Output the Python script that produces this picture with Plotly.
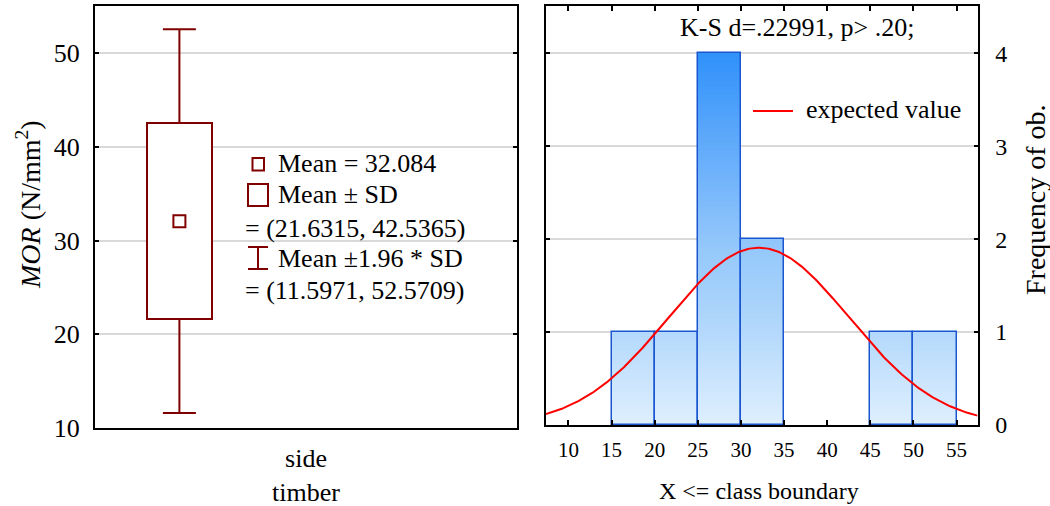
import numpy as np
import plotly.graph_objects as go

# ---------------- data ----------------
# Left panel: descriptive statistics of MOR for the single group
CATEGORY_LABEL = "side<br>timber"
MEAN = 32.084
SD_LOW, SD_HIGH = 21.6315, 42.5365          # Mean ± SD
CI_LOW, CI_HIGH = 11.5971, 52.5709          # Mean ± 1.96*SD
LEFT_YTICKS = [10, 20, 30, 40, 50]

# Right panel: histogram with expected normal curve
BIN_EDGES = [15, 20, 25, 30, 35, 40, 45, 50, 55]
COUNTS = [1, 1, 4, 2, 0, 0, 1, 1]
N_OBS = 10
SD = (SD_HIGH - SD_LOW) / 2
X_TICKS = [10, 15, 20, 25, 30, 35, 40, 45, 50, 55]
FREQ_TICKS = [0, 1, 2, 3, 4]
KS_TEXT = "K-S d=.22991, p> .20;"

# ---------------- style ----------------
W, H = 1050, 506
FONT = "Liberation Serif"
DARKRED = "#800000"
GRID = "#d9d9d9"
BAR_EDGE = "#1a56d0"
CURVE = "#ff0000"


def px(x):
    return x / W


def py(y):
    return 1 - y / H


fig = go.Figure()

# ---- left panel: whiskers (mean ± 1.96 SD) under a box (mean ± SD) ----
BOX_POS = 0.2
BOX_W = 0.154
fig.add_trace(go.Scatter(
    x=[BOX_POS], y=[MEAN], mode="markers", marker=dict(size=1, opacity=0),
    error_y=dict(type="data", symmetric=False, array=[CI_HIGH - MEAN],
                 arrayminus=[MEAN - CI_LOW], color=DARKRED, thickness=2, width=16.5),
    showlegend=False, hoverinfo="skip", xaxis="x", yaxis="y"))
fig.add_trace(go.Bar(
    x=[BOX_POS], base=[SD_LOW], y=[SD_HIGH - SD_LOW], width=[BOX_W],
    marker=dict(color="white", line=dict(color=DARKRED, width=2)),
    showlegend=False, hoverinfo="skip", xaxis="x3", yaxis="y3"))
fig.add_trace(go.Scatter(
    x=[BOX_POS], y=[MEAN], mode="markers",
    marker=dict(symbol="square-open", size=12, color=DARKRED,
                line=dict(width=2, color=DARKRED)),
    showlegend=False, hoverinfo="skip", xaxis="x3", yaxis="y3"))

# ---- right panel: gradient-filled histogram bars ----
centers = [(a + b) / 2 for a, b in zip(BIN_EDGES[:-1], BIN_EDGES[1:])]
widths = [b - a for a, b in zip(BIN_EDGES[:-1], BIN_EDGES[1:])]
counts = np.array(COUNTS, dtype=float)

STOP_Y = [0, 1, 2, 3, 4]
STOP_C = [(224, 240, 255), (180, 217, 252), (145, 198, 251), (98, 171, 251), (48, 146, 250)]


def grad(v):
    r = np.interp(v, STOP_Y, [c[0] for c in STOP_C])
    g = np.interp(v, STOP_Y, [c[1] for c in STOP_C])
    b = np.interp(v, STOP_Y, [c[2] for c in STOP_C])
    return f"rgb({int(r)},{int(g)},{int(b)})"


n_slices = 80
top = counts.max()
step = top / n_slices
for k in range(n_slices):
    base = k * step
    h = np.clip(counts - base, 0, step)
    if h.max() <= 0:
        continue
    fig.add_trace(go.Bar(
        x=centers, y=h, base=[base] * len(centers), width=widths,
        marker=dict(color=grad(base + step / 2), line=dict(width=0)),
        showlegend=False, hoverinfo="skip", xaxis="x2", yaxis="y2"))

edge_widths = [1.5 if c > 0 else 0 for c in COUNTS]
fig.add_trace(go.Bar(
    x=centers, y=counts, width=widths,
    marker=dict(color="rgba(0,0,0,0)", line=dict(color=BAR_EDGE, width=edge_widths)),
    showlegend=False, hoverinfo="skip", xaxis="x2", yaxis="y2"))

# expected normal curve (scaled to counts per bin)
xr = np.linspace(7.4, 57.43, 300)
bw = widths[0]
yr = N_OBS * bw * np.exp(-0.5 * ((xr - MEAN) / SD) ** 2) / (SD * np.sqrt(2 * np.pi))
fig.add_trace(go.Scatter(
    x=xr, y=yr, mode="lines", line=dict(color=CURVE, width=2),
    showlegend=False, hoverinfo="skip", xaxis="x2", yaxis="y2"))

# ---------------- layout ----------------
axis_common = dict(showline=True, linecolor="black", linewidth=2,
                   zeroline=False, tickcolor="black", automargin=False)
LEFT_XDOM = [px(95), px(517)]
LEFT_YDOM = [py(428), py(6)]
LEFT_XRANGE = [0, 1]
LEFT_YRANGE = [10, 55.05]

fig.update_layout(
    width=W, height=H, margin=dict(l=0, r=0, t=0, b=0, autoexpand=False),
    paper_bgcolor="white", plot_bgcolor="white",
    font=dict(family=FONT, size=26, color="black"),
    barmode="overlay", bargap=0, showlegend=False,
    xaxis=dict(domain=LEFT_XDOM, range=LEFT_XRANGE, anchor="y",
               tickvals=[0.5], ticktext=[CATEGORY_LABEL], ticks="",
               showgrid=False, mirror=True, tickfont=dict(size=26),
               ticklabelstandoff=6, **axis_common),
    yaxis=dict(domain=LEFT_YDOM, range=LEFT_YRANGE, anchor="x",
               tickvals=LEFT_YTICKS, ticks="inside", ticklen=4, tickwidth=2,
               mirror="ticks", showgrid=True, gridcolor=GRID, gridwidth=2,
               tickfont=dict(size=26), ticklabelstandoff=8, **axis_common),
    xaxis3=dict(domain=LEFT_XDOM, range=LEFT_XRANGE, overlaying="x", anchor="y3",
                visible=False, automargin=False),
    yaxis3=dict(domain=LEFT_YDOM, range=LEFT_YRANGE, overlaying="y", anchor="x3",
                visible=False, automargin=False),
    xaxis2=dict(domain=[px(546), px(977.5)], range=[7.4, 57.43], anchor="y2",
                tickvals=X_TICKS, ticks="inside", ticklen=5, tickwidth=2,
                mirror="ticks", showgrid=False, tickfont=dict(size=21),
                ticklabelstandoff=5, **axis_common),
    yaxis2=dict(domain=[py(425), py(6)], range=[0, 4.509], anchor="x2",
                side="right", tickvals=FREQ_TICKS, ticks="inside", ticklen=4,
                tickwidth=2, mirror="ticks", showgrid=True, gridcolor=GRID,
                gridwidth=2, tickfont=dict(size=24), ticklabelstandoff=11,
                **axis_common),
)

# ---- legend glyphs ----
shapes = [
    dict(type="rect", xref="paper", yref="paper", x0=px(252.5), x1=px(264),
         y0=py(170.5), y1=py(158), line=dict(color=DARKRED, width=2)),
    dict(type="rect", xref="paper", yref="paper", x0=px(248), x1=px(268),
         y0=py(206), y1=py(184), line=dict(color=DARKRED, width=2)),
    dict(type="line", xref="paper", yref="paper", x0=px(258), x1=px(258),
         y0=py(269), y1=py(247), line=dict(color=DARKRED, width=2)),
    dict(type="line", xref="paper", yref="paper", x0=px(248), x1=px(268),
         y0=py(247), y1=py(247), line=dict(color=DARKRED, width=2)),
    dict(type="line", xref="paper", yref="paper", x0=px(248), x1=px(268),
         y0=py(269), y1=py(269), line=dict(color=DARKRED, width=2)),
    # right panel legend line
    dict(type="line", xref="paper", yref="paper", x0=px(753), x1=px(793),
         y0=py(111), y1=py(111), line=dict(color=CURVE, width=2)),
]
fig.update_layout(shapes=shapes)


def ann(text, x, y, xanchor="left", size=26, angle=0):
    return dict(text=text, x=px(x), y=py(y), xref="paper", yref="paper",
                xanchor=xanchor, yanchor="middle", showarrow=False,
                textangle=angle, font=dict(family=FONT, size=size, color="black"))


annotations = [
    ann(f"Mean = {MEAN}", 276, 163),
    ann("Mean ± SD", 276, 194),
    ann(f"= ({SD_LOW}, {SD_HIGH})", 243, 228),
    ann("Mean ±1.96 * SD", 276, 258),
    ann(f"= ({CI_LOW}, {CI_HIGH})", 243, 290),
    ann("<i>MOR</i> (N/mm<sup>2</sup>)", 28, 205, xanchor="center", size=28, angle=-90),
    ann(KS_TEXT, 797, 27, xanchor="center", size=26),
    ann("expected value", 804, 110, size=26),
    ann("X &lt;= class boundary", 759, 491, xanchor="center", size=24),
    ann("Frequency of ob.", 1036, 200, xanchor="center", size=28, angle=-90),
]
fig.update_layout(annotations=annotations)

fig.write_html("out.html", config={"displayModeBar": False},
               post_script="document.body.style.margin='0px';")
